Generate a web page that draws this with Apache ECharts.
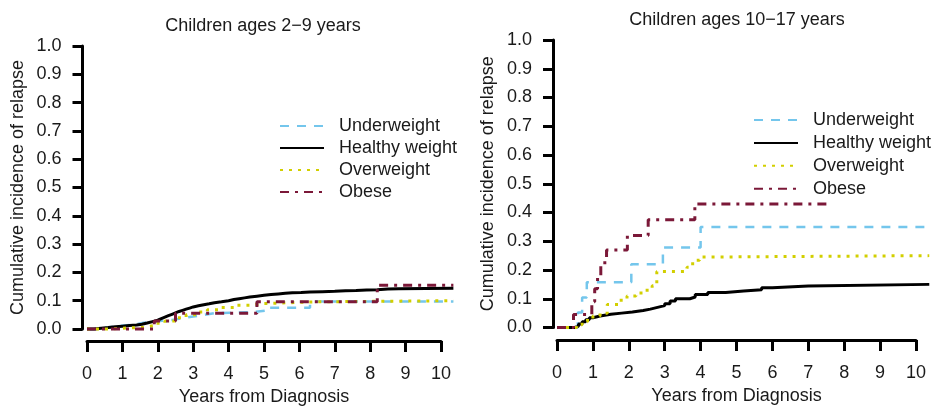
<!DOCTYPE html>
<html><head><meta charset="utf-8">
<script src="https://cdn.jsdelivr.net/npm/echarts@6/dist/echarts.min.js"></script>
<style>html,body{margin:0;padding:0;background:#fff}#c{width:938px;height:406px}</style>
</head><body><div id="c"></div><script>
// ---------- data ----------
const seriesNames = ['Underweight', 'Healthy weight', 'Overweight', 'Obese'];
const panelTitles = ['Children ages 2\u22129 years', 'Children ages 10\u221217 years'];
const xTickLabels = ['0','1','2','3','4','5','6','7','8','9','10'];
const yTickLabels = ['0.0','0.1','0.2','0.3','0.4','0.5','0.6','0.7','0.8','0.9','1.0'];
const xAxisTitle = 'Years from Diagnosis';
const yAxisTitle = 'Cumulative incidence of relapse';

// Panel 1: ages 2-9
const young_under_x = [0, 0.4, 0.6, 0.85, 1.3, 1.6, 2.0, 2.4, 2.7, 3.0, 3.3, 3.6, 4.7, 5.1, 6.3, 10.35];
const young_under_y = [0, 0.005, 0.01, 0.015, 0.022, 0.028, 0.032, 0.038, 0.044, 0.05, 0.056, 0.06, 0.066, 0.075, 0.097, 0.097];
const young_healthy_x = [0, 0.2, 0.4, 0.6, 0.8, 1.0, 1.2, 1.4, 1.55, 1.7, 1.85, 2.0, 2.1, 2.2, 2.3, 2.4, 2.5, 2.6, 2.7, 2.8, 2.9, 3.0, 3.15, 3.3, 3.45, 3.6, 3.8, 4.0, 4.15, 4.3, 4.45, 4.6, 4.8, 5.0, 5.2, 5.4, 5.6, 5.8, 6.05, 6.3, 6.65, 7.0, 7.3, 7.6, 7.9, 8.2, 8.5, 8.8, 10.35];
const young_healthy_y = [0, 0.003, 0.005, 0.008, 0.01, 0.012, 0.014, 0.017, 0.021, 0.026, 0.031, 0.037, 0.042, 0.047, 0.052, 0.057, 0.062, 0.066, 0.07, 0.074, 0.078, 0.082, 0.086, 0.089, 0.093, 0.096, 0.1, 0.104, 0.107, 0.11, 0.113, 0.116, 0.119, 0.122, 0.124, 0.126, 0.128, 0.129, 0.131, 0.132, 0.133, 0.135, 0.136, 0.138, 0.139, 0.141, 0.142, 0.144, 0.144];
const young_over_x = [0, 0.6, 1.0, 1.6, 1.9, 2.2, 2.5, 2.8, 3.1, 3.4, 3.8, 4.2, 4.6, 5.0, 6.5, 10.35];
const young_over_y = [0, 0.003, 0.006, 0.012, 0.02, 0.028, 0.04, 0.05, 0.06, 0.068, 0.076, 0.084, 0.09, 0.096, 0.1, 0.1];
const young_obese_x = [0, 1.9, 2.5, 4.8, 8.2, 10.35];
const young_obese_y = [0, 0.028, 0.056, 0.096, 0.155, 0.155];

// Panel 2: ages 10-17
const teen_under_x = [0, 0.58, 0.7, 0.83, 2.07, 2.95, 4.0, 10.37];
const teen_under_y = [0, 0.052, 0.104, 0.157, 0.22, 0.278, 0.35, 0.35];
const teen_healthy_x = [0, 0.5, 0.6, 0.7, 0.8, 0.9, 1.0, 1.2, 1.5, 1.8, 2.1, 2.4, 2.6, 2.8, 3.0, 3.15, 3.3, 3.7, 3.85, 4.2, 4.7, 5.2, 5.7, 6.0, 7.0, 10.37];
const teen_healthy_y = [0, 0.005, 0.012, 0.02, 0.027, 0.034, 0.04, 0.046, 0.05, 0.054, 0.059, 0.064, 0.07, 0.076, 0.083, 0.092, 0.1, 0.106, 0.115, 0.122, 0.127, 0.131, 0.138, 0.144, 0.15, 0.15];
const teen_over_x = [0, 0.55, 0.7, 0.85, 1.0, 1.2, 1.4, 1.7, 1.95, 2.2, 2.45, 2.65, 2.78, 3.62, 3.72, 3.85, 3.97, 4.1, 10.37];
const teen_over_y = [0, 0.01, 0.02, 0.03, 0.04, 0.05, 0.08, 0.095, 0.11, 0.12, 0.13, 0.145, 0.195, 0.21, 0.222, 0.234, 0.245, 0.25, 0.25];
const teen_obese_x = [0, 0.46, 0.97, 1.05, 1.13, 1.22, 1.38, 1.96, 2.54, 3.84, 7.6];
const teen_obese_y = [0, 0.045, 0.09, 0.135, 0.18, 0.225, 0.27, 0.32, 0.375, 0.43, 0.43];

// ---------- styling ----------
const FONT = '"Liberation Sans", Arial, sans-serif';
const TXT = '#1a1a1a';
const styles = [
  { color: '#74C6EC', type: [9, 8], width: 2.5 },
  { color: '#000000', type: 'solid', width: 3 },
  { color: '#D2CF00', type: [3, 6], width: 3 },
  { color: '#7B1838', type: [9, 6, 3, 6], width: 3 }
];
const pairs = (xs, ys) => xs.map((x, i) => [x, ys[i]]);
const panels = [
  [[young_under_x, young_under_y], [young_healthy_x, young_healthy_y], [young_over_x, young_over_y], [young_obese_x, young_obese_y]],
  [[teen_under_x, teen_under_y], [teen_healthy_x, teen_healthy_y], [teen_over_x, teen_over_y], [teen_obese_x, teen_obese_y]]
];
// x0: pixel of x=0, xs: px per year, y1: pixel of y=1, y0: pixel of y=0
const layout = [
  { x0: 87, xs: 35.4, y1: 46, y0: 329, xOff: 12, yOff: 4.5, titleX: 263, titleTop: 17, yNameGap: 55, xNameGap: 47, legL: 279, legT: 117, legGap: 4 },
  { x0: 557, xs: 35.9, y1: 40, y0: 327.5, xOff: 12.5, yOff: 4, titleX: 737, titleTop: 11, yNameGap: 56, xNameGap: 46, legL: 753, legT: 111, legGap: 4.9 }
];

const grid = [], xAxis = [], yAxis = [], series = [], title = [], legend = [];
layout.forEach((L, p) => {
  const ys = L.y0 - L.y1;
  // display grid (axes only): x 0..10, y 0..1
  grid.push({ left: L.x0, top: L.y1, width: 10 * L.xs, height: ys, outerBoundsMode: 'none', containLabel: false });
  // data grid (hidden axes): x -0.5..10.5, y -0.05..1.05
  grid.push({ left: L.x0 - 0.5 * L.xs, top: L.y1 - 0.05 * ys, width: 11 * L.xs, height: 1.1 * ys, outerBoundsMode: 'none', containLabel: false });
  const gd = 2 * p, gdData = 2 * p + 1;
  xAxis.push({
    gridIndex: gd, type: 'value', min: 0, max: 10, interval: 1, offset: L.xOff,
    axisLine: { show: true, onZero: false, lineStyle: { color: '#000', width: 3 } },
    axisTick: { show: true, inside: false, length: 11, lineStyle: { color: '#000', width: 3 } },
    axisLabel: { margin: 24, fontSize: 18, fontFamily: FONT, color: TXT, formatter: v => xTickLabels[Math.round(v)] },
    splitLine: { show: false },
    name: xAxisTitle, nameLocation: 'middle', nameGap: L.xNameGap,
    nameTextStyle: { fontSize: 18, fontFamily: FONT, color: TXT }
  });
  yAxis.push({
    gridIndex: gd, type: 'value', min: 0, max: 1, interval: 0.1, offset: L.yOff,
    axisLine: { show: true, onZero: false, lineStyle: { color: '#000', width: 3 } },
    axisTick: { show: true, inside: false, length: 10, lineStyle: { color: '#000', width: 3 } },
    axisLabel: { margin: 21, fontSize: 18, fontFamily: FONT, color: TXT, formatter: v => yTickLabels[Math.round(v * 10)] },
    splitLine: { show: false },
    name: yAxisTitle, nameLocation: 'middle', nameGap: L.yNameGap, nameRotate: 90,
    nameTextStyle: { fontSize: 18, fontFamily: FONT, color: TXT }
  });
  xAxis.push({ gridIndex: gdData, type: 'value', min: -0.5, max: 10.5, show: false });
  yAxis.push({ gridIndex: gdData, type: 'value', min: -0.05, max: 1.05, show: false });
  title.push({
    text: panelTitles[p], left: L.titleX, top: L.titleTop, textAlign: 'center', padding: 0,
    textStyle: { fontSize: 18, fontWeight: 'normal', fontFamily: FONT, color: TXT, lineHeight: 18 }
  });
  legend.push({
    orient: 'vertical', left: L.legL, top: L.legT, itemWidth: 44, itemHeight: 12, itemGap: L.legGap,
    padding: 0, selectedMode: false, data: seriesNames,
    itemStyle: { opacity: 0 },
    textStyle: { fontSize: 18, fontFamily: FONT, color: TXT, lineHeight: 18, padding: [0, 0, 0, 10] }
  });
  panels[p].forEach((d, s) => {
    series.push({
      name: seriesNames[s], type: 'line', xAxisIndex: 2 * p + 1, yAxisIndex: 2 * p + 1,
      data: pairs(d[0], d[1]), step: 'end', symbol: 'none', showSymbol: false,
      clip: true, silent: true, animation: false,
      lineStyle: { color: styles[s].color, type: styles[s].type, width: styles[s].width, cap: 'butt' },
      itemStyle: { color: styles[s].color }
    });
  });
});

const chart = echarts.init(document.getElementById('c'), null, { renderer: 'canvas' });
chart.setOption({ backgroundColor: '#fff', animation: false, title, legend, grid, xAxis, yAxis, series });
</script></body></html>
